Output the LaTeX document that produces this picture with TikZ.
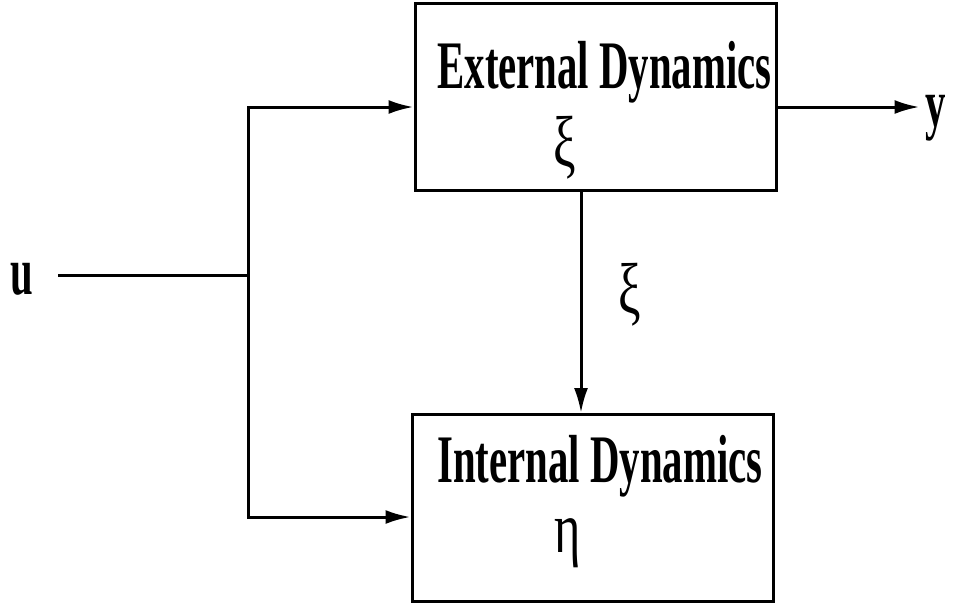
\documentclass[tikz,border=0pt]{standalone}
\usepackage{fontspec}
\newfontfamily\blkfont[FakeStretch=0.6]{Liberation Serif}
\newfontfamily\symfont[FakeStretch=0.7]{Liberation Serif}
\usetikzlibrary{positioning, arrows.meta}
\tikzset{%
  wire/.style={line width=1.5pt},
  sig/.style={wire, -{Latex[length=12.5pt,width=7pt]}},
  blk/.style={draw, line width=1.5pt, minimum width=180.5pt, minimum height=93.5pt, inner sep=0pt},
  ttl/.style={font=\blkfont\bfseries\fontsize{34}{40}\selectfont, inner sep=0pt},
  sym/.style={font=\symfont\fontsize{36}{42}\selectfont, inner sep=0pt}
}

\begin{document}
\begin{tikzpicture}[x=0.5pt, y=-0.5pt]
        \useasboundingbox (0,0) rectangle (957,606);
        \node[blk] (ext) at (595.5,96.5) {};
        \node[blk] (int) at (592.5,508)  {};
        \node[ttl, anchor=base west] (extname) at (437,88)  {External Dynamics};
        \node[ttl, anchor=base west] (intname) at (437,482) {Internal Dynamics};
        \node[sym] (xi)  at (565,148) {ξ};
        \node[sym] (eta) at (568,543) {η};
        \node[sym] (xil) at (630,295) {ξ};
        \node[ttl] (u) at (22,279) {u};
        \node[ttl, anchor=west] (y) at (925,118) {y};
        \coordinate (uin) at (58,275);
        \coordinate (br)  at (248,275);
        \draw[wire] (uin) -- (br);
        \draw[sig] (br) |- ([yshift=-5.25pt]ext.west);
        \draw[sig] (br) |- ([yshift=-4.5pt]int.west);
        \draw[sig] ([yshift=-5.25pt]ext.east) -- ++(142,0) coordinate (yout);
        \draw[sig] ([xshift=-7.25pt]ext.south) -- ([xshift=-7.25pt]ext.south |- int.north);
\end{tikzpicture}
\end{document}
